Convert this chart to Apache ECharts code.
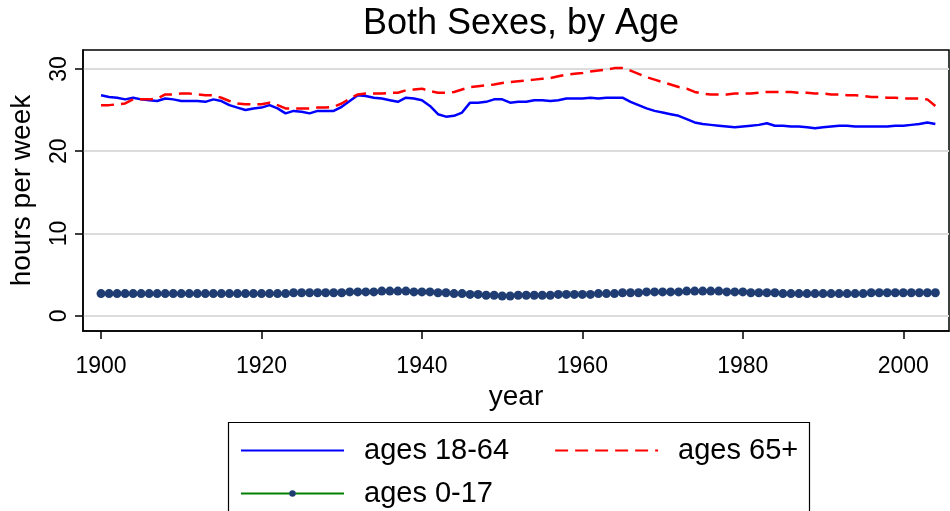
<!DOCTYPE html>
<html>
<head>
<meta charset="utf-8">
<script src="https://cdn.jsdelivr.net/npm/echarts@6/dist/echarts.min.js"></script>
<style>
    html, body {margin: 0; padding: 0; background: #fff;}
    #main {width: 950px; height: 511px;}
</style>
</head>
<body>
<div id="main"></div>
<script>
var firstYear = 1900;
var ages18to64 = [
    26.8, 26.6, 26.5, 26.3, 26.5, 26.3, 26.2, 26.1, 26.4, 26.3,
    26.1, 26.1, 26.1, 26.0, 26.3, 26.1, 25.6, 25.3, 25.0, 25.2,
    25.3, 25.6, 25.2, 24.6, 24.9, 24.8, 24.6, 24.9, 24.9, 24.9,
    25.4, 26.1, 26.8, 26.7, 26.5, 26.4, 26.2, 26.0, 26.5, 26.4,
    26.2, 25.5, 24.5, 24.2, 24.3, 24.7, 25.9, 25.9, 26.0, 26.3,
    26.3, 25.9, 26.0, 26.0, 26.2, 26.2, 26.1, 26.2, 26.4, 26.4,
    26.4, 26.5, 26.4, 26.5, 26.5, 26.5, 26.0, 25.6, 25.2, 24.9,
    24.7, 24.5, 24.3, 23.9, 23.5, 23.3, 23.2, 23.1, 23.0, 22.9,
    23.0, 23.1, 23.2, 23.4, 23.1, 23.1, 23.0, 23.0, 22.9, 22.8,
    22.9, 23.0, 23.1, 23.1, 23.0, 23.0, 23.0, 23.0, 23.0, 23.1,
    23.1, 23.2, 23.3, 23.5, 23.3
];
var ages65plus = [
    25.6, 25.6, 25.7, 25.8, 26.3, 26.3, 26.3, 26.4, 26.9, 26.9,
    27.0, 27.0, 26.9, 26.8, 26.8, 26.5, 26.1, 25.8, 25.7, 25.7,
    25.7, 25.9, 25.6, 25.2, 25.2, 25.2, 25.2, 25.3, 25.3, 25.4,
    25.8, 26.4, 26.9, 27.0, 27.0, 27.0, 27.1, 27.1, 27.4, 27.5,
    27.6, 27.3, 27.1, 27.1, 27.2, 27.5, 27.8, 27.9, 28.0, 28.1,
    28.3, 28.4, 28.5, 28.6, 28.7, 28.8, 28.9, 29.1, 29.3, 29.4,
    29.5, 29.7, 29.8, 29.9, 30.1, 30.1, 29.8, 29.4, 29.0, 28.7,
    28.4, 28.1, 27.8, 27.6, 27.2, 27.0, 26.9, 26.9, 26.9, 27.0,
    27.0, 27.0, 27.1, 27.2, 27.2, 27.2, 27.2, 27.1, 27.1, 27.0,
    27.0, 26.9, 26.9, 26.8, 26.8, 26.7, 26.6, 26.6, 26.5, 26.5,
    26.4, 26.4, 26.4, 26.3, 25.5
];
var ages0to17 = [
    2.7, 2.7, 2.7, 2.7, 2.7, 2.7, 2.7, 2.7, 2.7, 2.7,
    2.7, 2.7, 2.7, 2.7, 2.7, 2.7, 2.7, 2.7, 2.7, 2.7,
    2.7, 2.7, 2.7, 2.7, 2.8, 2.8, 2.8, 2.8, 2.8, 2.8,
    2.8, 2.9, 2.9, 2.9, 2.9, 3.0, 3.0, 3.0, 3.0, 2.9,
    2.9, 2.9, 2.8, 2.8, 2.7, 2.7, 2.6, 2.6, 2.5, 2.5,
    2.4, 2.4, 2.5, 2.5, 2.5, 2.5, 2.5, 2.6, 2.6, 2.6,
    2.6, 2.6, 2.7, 2.7, 2.7, 2.8, 2.8, 2.8, 2.9, 2.9,
    2.9, 2.9, 2.9, 3.0, 3.0, 3.0, 3.0, 3.0, 2.9, 2.9,
    2.9, 2.8, 2.8, 2.8, 2.8, 2.7, 2.7, 2.7, 2.7, 2.7,
    2.7, 2.7, 2.7, 2.7, 2.7, 2.7, 2.8, 2.8, 2.8, 2.8,
    2.8, 2.8, 2.8, 2.8, 2.8
];
var xTicks = [1900, 1920, 1940, 1960, 1980, 2000];
var yTicks = [0, 10, 20, 30];

function toPairs(values) {
    var out = [];
    for (var i = 0; i < values.length; i++) {
        out.push([firstYear + i, values[i]]);
    }
    return out;
}

var font = 'Liberation Sans, Arial, sans-serif';
var legendText = {fontFamily: font, fontSize: 29, color: '#000', padding: [0, 0, 0, 15]};
/*只画线，不画中间的点*/
var noDot = {opacity: 0};
var myChart = echarts.init(document.getElementById('main'), null, {renderer: 'canvas'});

var option = {
    animation: false,
    backgroundColor: '#fff',
    title: {
        text: 'Both Sexes, by Age',
        left: 516,
        textAlign: 'center',
        top: 1,
        textStyle: {fontFamily: font, fontSize: 36, fontWeight: 'normal', color: '#000'}
    },
    legend: [{
        data: [
            {name: 'ages 18-64', itemStyle: noDot},
            {name: 'ages 65+', itemStyle: noDot}
        ],
        left: 235,
        top: 431,
        itemWidth: 103,
        itemHeight: 10,
        itemGap: 45,
        textStyle: legendText
    }, {
        data: ['ages 0-17'],
        left: 235,
        top: 474,
        itemWidth: 103,
        itemHeight: 8,
        textStyle: legendText
    }],
    graphic: [{
        type: 'rect',
        shape: {x: 228.5, y: 422.5, width: 581, height: 100},
        style: {fill: 'none', stroke: '#000', lineWidth: 1.2}
    }],
    grid: {
        left: 83,
        right: 1,
        top: 50,
        bottom: 180,
        outerBoundsMode: 'none',
        containLabel: false,
        show: true,
        borderColor: '#000',
        borderWidth: 1.5
    },
    xAxis: {
        type: 'value',
        min: 1897.75,
        max: 2005.7,
        name: 'year',
        nameLocation: 'middle',
        nameGap: 43,
        nameTextStyle: {fontFamily: font, fontSize: 28, color: '#000'},
        axisLine: {show: true, onZero: false, lineStyle: {color: '#000', width: 1.5}},
        axisTick: {show: true, length: 8, customValues: xTicks, lineStyle: {color: '#000', width: 1.5}},
        axisLabel: {
            customValues: xTicks, margin: 24, fontFamily: font, fontSize: 23, color: '#000',
            formatter: function (v) { return String(v); }
        },
        splitLine: {show: false}
    },
    yAxis: {
        type: 'value',
        min: -1.85,
        max: 32.3,
        name: 'hours per week',
        nameLocation: 'middle',
        nameGap: 47,
        nameRotate: 90,
        nameTextStyle: {fontFamily: font, fontSize: 28, color: '#000'},
        axisLine: {show: true, lineStyle: {color: '#000', width: 1.5}},
        axisTick: {show: true, length: 8, customValues: yTicks, lineStyle: {color: '#000', width: 1.5}},
        axisLabel: {customValues: yTicks, rotate: 90, margin: 12, fontFamily: font, fontSize: 23, color: '#000'},
        splitLine: {show: true, customValues: yTicks, lineStyle: {color: '#dcdcdc', width: 2}}
    },
    series: [{
        name: 'ages 18-64',
        type: 'line',
        symbol: 'none',
        lineStyle: {color: '#0000ff', width: 2.5},
        itemStyle: {color: '#0000ff'},
        data: toPairs(ages18to64)
    }, {
        name: 'ages 65+',
        type: 'line',
        symbol: 'none',
        lineStyle: {color: '#ff0000', width: 2.5, type: [13, 7]},
        itemStyle: {color: '#ff0000'},
        data: toPairs(ages65plus)
    }, {
        name: 'ages 0-17',
        type: 'line',
        symbol: 'circle',
        symbolSize: 9,
        lineStyle: {color: '#008000', width: 2.5},
        itemStyle: {color: '#1f3d73'},
        data: toPairs(ages0to17)
    }]
};

myChart.setOption(option);
</script>
</body>
</html>
